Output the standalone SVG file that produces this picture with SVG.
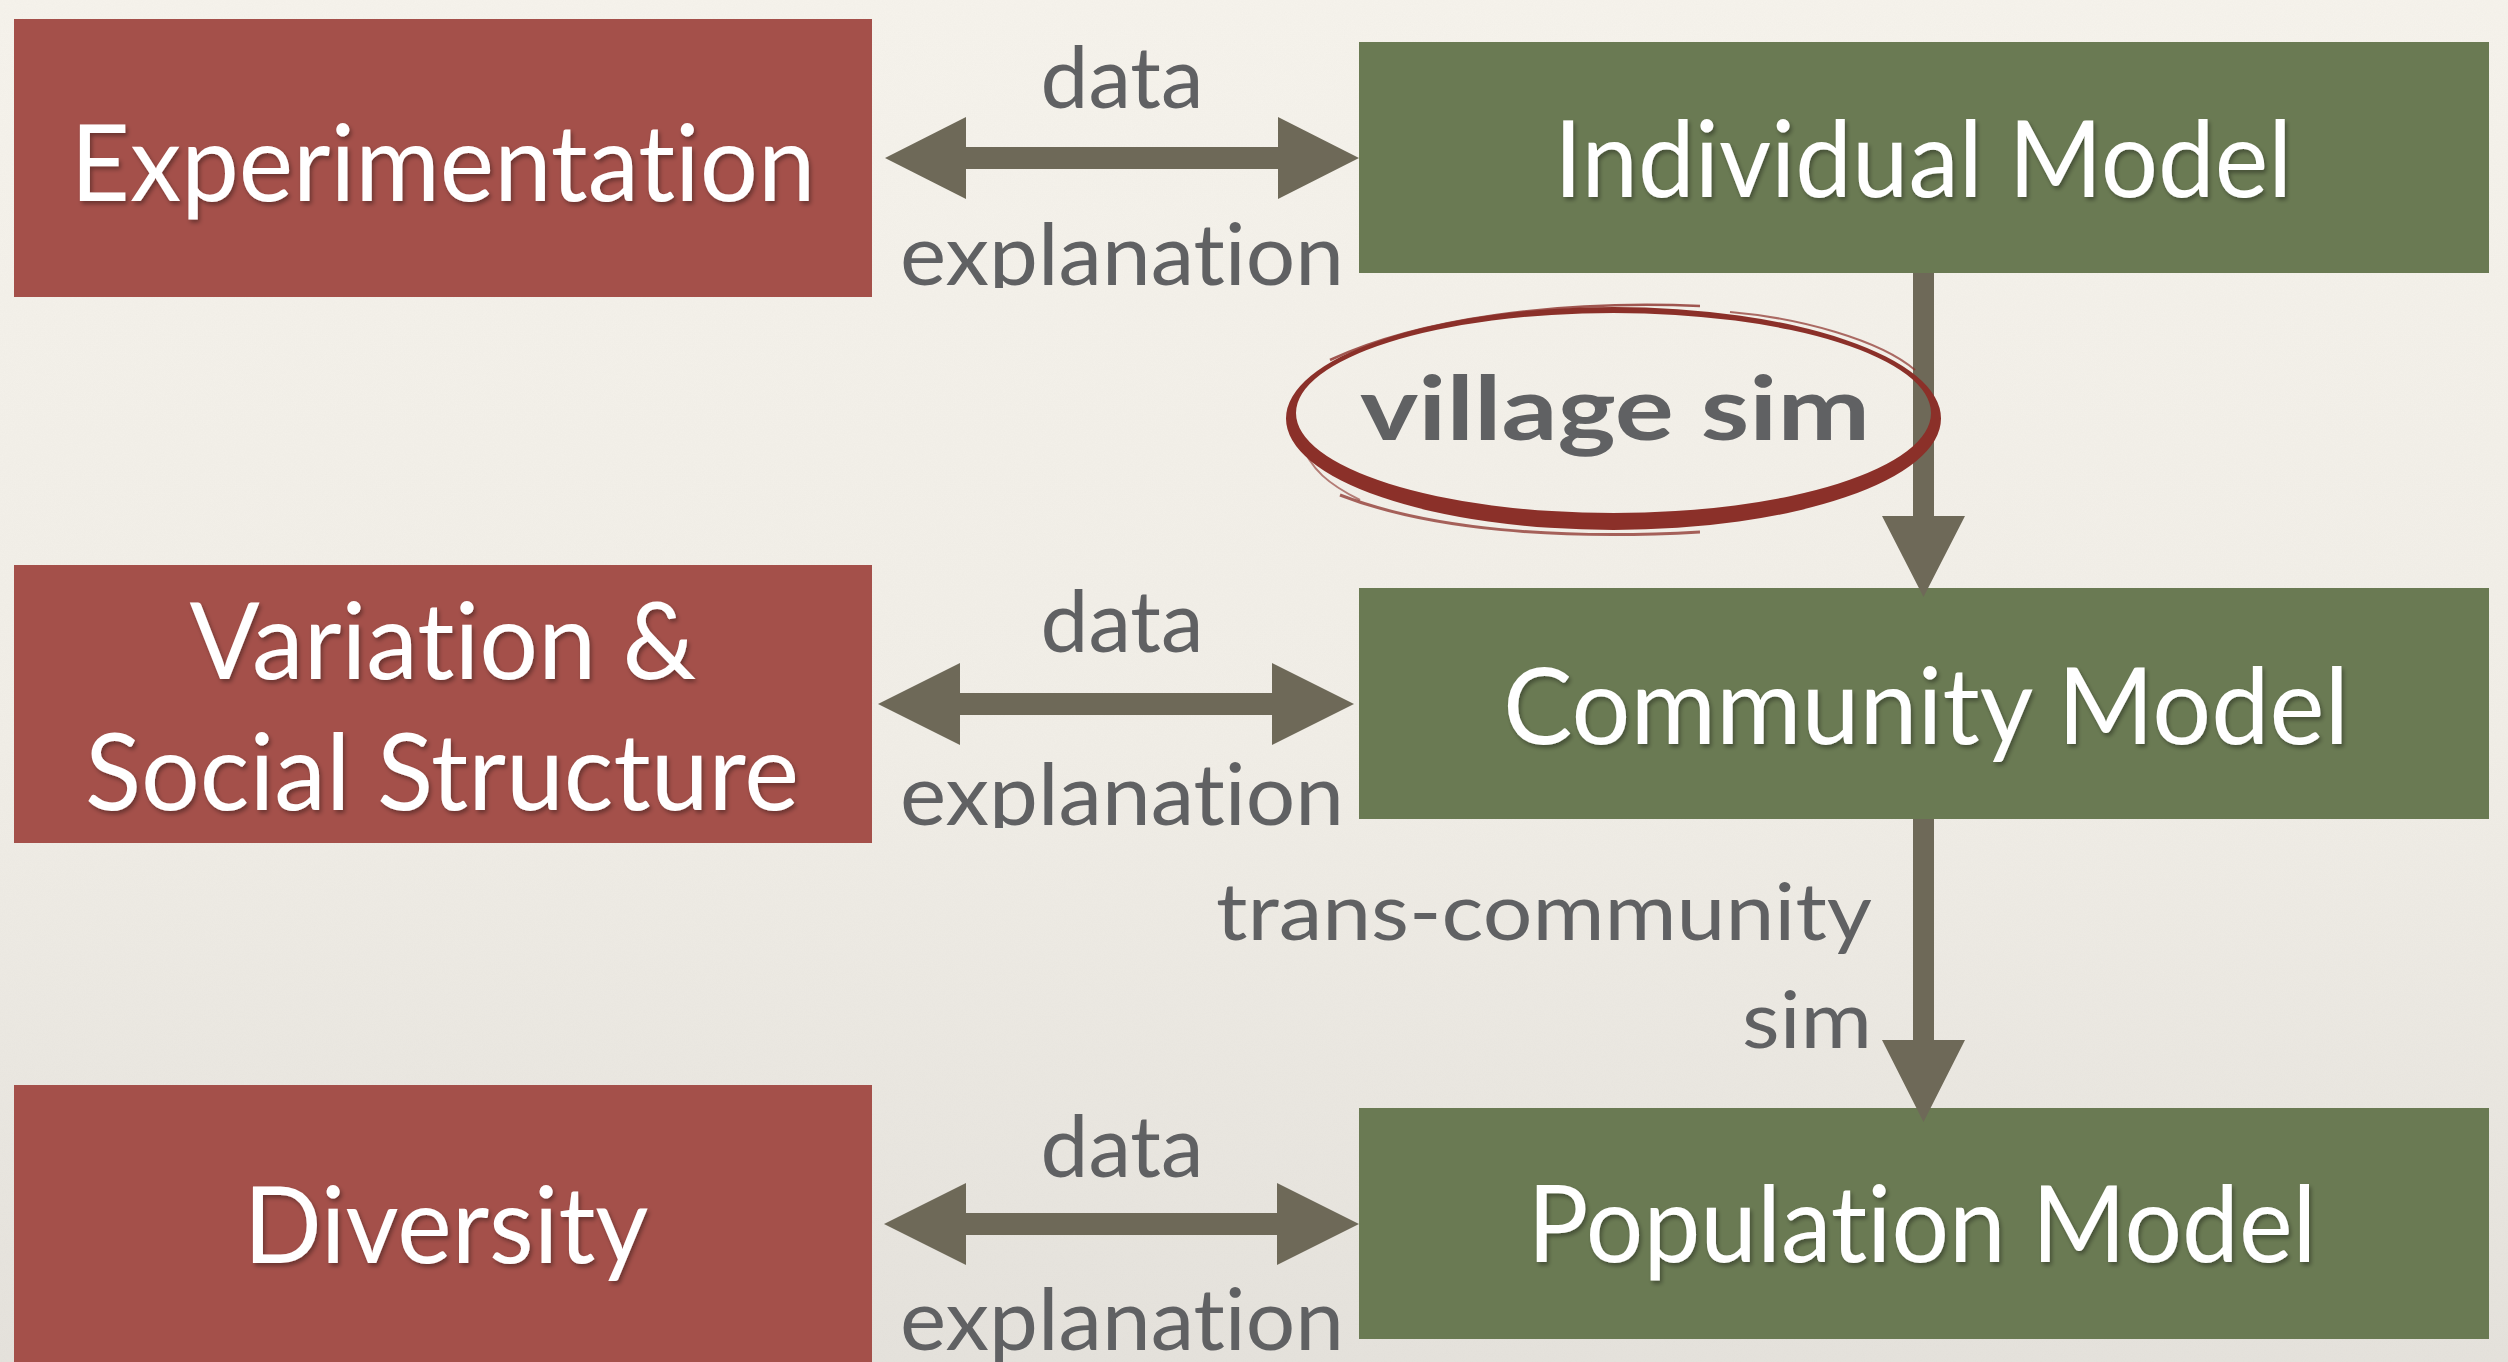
<svg xmlns="http://www.w3.org/2000/svg" width="2508" height="1362" viewBox="0 0 2508 1362">
  <style>
    text { font-variant-ligatures: none; font-feature-settings: "liga" 0, "clig" 0; }
    .red { fill: #a4504a; }
    .green { fill: #6a7a53; }
    .ntext { font-family: Lato, "Open Sans", "Liberation Sans", sans-serif; font-size: 107px; fill: #ffffff; text-anchor: middle; filter: url(#shadow); }
    .lbl { font-family: Lato, "Open Sans", "Liberation Sans", sans-serif; font-size: 85px; fill: #606163; text-anchor: middle; }
    .arrow { fill: #6e6958; }
    .brush { fill: none; stroke: #8b3029; }
  </style>
  <defs>
    <linearGradient id="bg" x1="0" y1="0" x2="0" y2="1">
      <stop offset="0" stop-color="#f6f3ec"/>
      <stop offset="0.55" stop-color="#f1eee7"/>
      <stop offset="1" stop-color="#e5e2dc"/>
    </linearGradient>
    <filter id="shadow" x="-10%" y="-20%" width="120%" height="150%">
      <feDropShadow dx="2" dy="3" stdDeviation="2" flood-color="#000000" flood-opacity="0.35"/>
    </filter>
    <filter id="paper" x="0" y="0" width="100%" height="100%">
      <feTurbulence type="fractalNoise" baseFrequency="0.9" numOctaves="2" seed="3" result="n"/>
      <feColorMatrix type="matrix" values="0 0 0 0 0.5  0 0 0 0 0.48  0 0 0 0 0.45  0 0 0 0.06 0"/>
    </filter>
    <clipPath id="clip1"><rect x="880" y="200" width="480" height="88"/></clipPath>
    <clipPath id="clip2"><rect x="880" y="740" width="480" height="88"/></clipPath>
  </defs>

  <rect x="0" y="0" width="2508" height="1362" fill="url(#bg)"/>
  <rect x="0" y="0" width="2508" height="1362" filter="url(#paper)"/>

  <g id="experimentation">
    <rect class="red" x="14" y="19" width="858" height="278"/>
    <text class="ntext" x="443" y="201" textLength="745" lengthAdjust="spacingAndGlyphs">Experimentation</text>
  </g>
  <g id="variation">
    <rect class="red" x="14" y="565" width="858" height="278"/>
    <text class="ntext" x="443" y="679" textLength="507" lengthAdjust="spacingAndGlyphs">Variation &amp;</text>
    <text class="ntext" x="442" y="810" textLength="714" lengthAdjust="spacingAndGlyphs">Social Structure</text>
  </g>
  <g id="diversity">
    <rect class="red" x="14" y="1085" width="858" height="290"/>
    <text class="ntext" x="446" y="1263" textLength="405" lengthAdjust="spacingAndGlyphs">Diversity</text>
  </g>
  <g id="individual">
    <rect class="green" x="1359" y="42" width="1130" height="231"/>
    <text class="ntext" x="1923" y="197" textLength="738" lengthAdjust="spacingAndGlyphs">Individual Model</text>
  </g>
  <g id="community">
    <rect class="green" x="1359" y="588" width="1130" height="231"/>
    <text class="ntext" x="1926" y="744" textLength="846" lengthAdjust="spacingAndGlyphs">Community Model</text>
  </g>
  <g id="population">
    <rect class="green" x="1359" y="1108" width="1130" height="231"/>
    <text class="ntext" x="1922" y="1262" textLength="789" lengthAdjust="spacingAndGlyphs">Population Model</text>
  </g>

  <g id="connectors">
    <polygon class="arrow" points="885,158 966,117 966,147 1278,147 1278,117 1359,158 1278,199 1278,169 966,169 966,199"/>
    <polygon class="arrow" points="878,704 960,663 960,693 1272,693 1272,663 1354,704 1272,745 1272,715 960,715 960,745"/>
    <polygon class="arrow" points="884,1224 966,1183 966,1213 1277,1213 1277,1183 1359,1224 1277,1265 1277,1235 966,1235 966,1265"/>
    <polygon class="arrow" points="1913,273 1934,273 1934,516 1965,516 1923.5,597 1882,516 1913,516"/>
    <polygon class="arrow" points="1913,819 1934,819 1934,1040 1965,1040 1923.5,1122 1882,1040 1913,1040"/>

    <text class="lbl" x="1122" y="108" textLength="163" lengthAdjust="spacingAndGlyphs">data</text>
    <text class="lbl" x="1122" y="285" textLength="444" lengthAdjust="spacingAndGlyphs" clip-path="url(#clip1)">explanation</text>
    <text class="lbl" x="1122" y="652" textLength="163" lengthAdjust="spacingAndGlyphs">data</text>
    <text class="lbl" x="1122" y="825" textLength="444" lengthAdjust="spacingAndGlyphs" clip-path="url(#clip2)">explanation</text>
    <text class="lbl" x="1122" y="1177" textLength="163" lengthAdjust="spacingAndGlyphs">data</text>
    <text class="lbl" x="1122" y="1350" textLength="444" lengthAdjust="spacingAndGlyphs">explanation</text>

    <text class="lbl" style="text-anchor:end;font-size:80px" x="1872" y="940" textLength="656" lengthAdjust="spacingAndGlyphs">trans-community</text>
    <text class="lbl" style="text-anchor:end;font-size:80px" x="1872" y="1048" textLength="130" lengthAdjust="spacingAndGlyphs">sim</text>
  </g>

  <g id="village-sim">
    <path fill="#8b3029" fill-rule="evenodd" d="M1286,418.5 A327.5,111.5 0 1,0 1941,418.5 A327.5,111.5 0 1,0 1286,418.5 Z M1296,413 A317.5,100 0 1,0 1931,413 A317.5,100 0 1,0 1296,413 Z"/>
    <path class="brush" stroke-width="2.5" opacity="0.8" d="M1330,360 C1420,318 1560,300 1700,306"/>
    <path class="brush" stroke-width="2" opacity="0.7" d="M1730,312 C1800,318 1880,340 1915,370"/>
    <path class="brush" stroke-width="3" opacity="0.75" d="M1340,495 C1430,530 1560,540 1700,532"/>
    <path class="brush" stroke-width="2" opacity="0.6" d="M1300,440 C1310,470 1330,485 1360,500"/>
    <text x="1615" y="440" style="font-family: Lato, 'Open Sans', 'Liberation Sans', sans-serif; font-size: 88px; font-weight: bold; fill: #606163; text-anchor: middle;" textLength="510" lengthAdjust="spacingAndGlyphs">village sim</text>
  </g>
</svg>
